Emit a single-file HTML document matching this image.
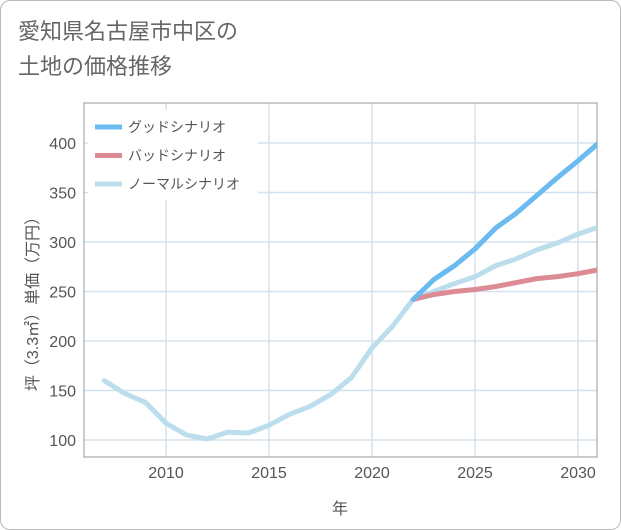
<!DOCTYPE html>
<html><head><meta charset="utf-8"><style>
body{margin:0;background:#fff;font-family:"Liberation Sans","Noto Sans CJK JP",sans-serif;}
#wrap{position:relative;width:619px;height:528px;border:1px solid #bbb;border-radius:10px;overflow:hidden;background:#fff}
#title{position:absolute;left:17px;top:13px;font-size:22px;line-height:35px;color:#666}
</style></head><body>
<div id="wrap">
<div id="title">愛知県名古屋市中区の<br>土地の価格推移</div>
<svg id="chart" width="621" height="530" style="position:absolute;left:-1px;top:-1px"></svg>
</div>
<script>
const years=[2007,2008,2009,2010,2011,2012,2013,2014,2015,2016,2017,2018,2019,2020,2021,2022,2023,2024,2025,2026,2027,2028,2029,2030,2031];
const normal=[160,147,138,117,105,101,108,107,115,126,134,146,163,193,215,242,250,258,265,276,283,292,299,308,315];
const futYears=[2022,2023,2024,2025,2026,2027,2028,2029,2030,2031];
const good=[242,262,276,293,314,329,347,365,382,400];
const bad=[242,247,250,252,255,259,263,265,268,272];
const xTicks=[2010,2015,2020,2025,2030];
const yTicks=[100,150,200,250,300,350,400];
const NS="http://www.w3.org/2000/svg";
const svg=document.getElementById('chart');
const L=84,R=597,T=103,B=457;
const x=v=>166+(v-2010)*20.6;
const y=v=>440-(v-100)*0.99;
function mk(t,a,p){const e=document.createElementNS(NS,t);for(const k in a)e.setAttribute(k,a[k]);(p||svg).appendChild(e);return e;}
const g=mk('g',{});

xTicks.forEach(v=>{mk('line',{x1:x(v),x2:x(v),y1:T,y2:B,stroke:'#d3e2ee','stroke-width':1.5},g);
const t=mk('text',{x:x(v),y:478,'text-anchor':'middle','font-size':16,fill:'#555'});t.textContent=v;
});
yTicks.forEach(v=>{mk('line',{x1:L,x2:R,y1:y(v),y2:y(v),stroke:'#d3e2ee','stroke-width':1.5},g);
const t=mk('text',{x:76,y:y(v)+6,'text-anchor':'end','font-size':16,fill:'#555'});t.textContent=v;
});
const fr=mk('rect',{x:L,y:T,width:R-L,height:B-T,fill:'none',stroke:'#999','stroke-width':1});

const cp=mk('clipPath',{id:'cp'});mk('rect',{x:L,y:T,width:R-L,height:B-T},cp);
function line(xs,vs,col,name){const p=mk('polyline',{points:xs.map((v,i)=>x(v)+','+y(vs[i])).join(' '),fill:'none',stroke:col,'stroke-width':5,'stroke-linejoin':'round','stroke-linecap':'round','clip-path':'url(#cp)'});
}
line(years,normal,'#bcdeec','normal-scenario-line');
line(futYears,bad,'#dc8a94','bad-scenario-line');
line(futYears,good,'#6cbbf0','good-scenario-line');
const lg=mk('g',{});
mk('rect',{x:88,y:110,width:170,height:90,fill:'#fff'},lg);
[['グッドシナリオ','#6cbbf0'],['バッドシナリオ','#dc8a94'],['ノーマルシナリオ','#bcdeec']].forEach((d,i)=>{
const yy=127+i*28.5;
mk('line',{x1:95,x2:122,y1:yy,y2:yy,stroke:d[1],'stroke-width':5},lg);
const t=mk('text',{x:128,y:yy+5,'font-size':14,fill:'#555'},lg);t.textContent=d[0];
});
const xt=mk('text',{x:340,y:514,'text-anchor':'middle','font-size':16,fill:'#555'});xt.textContent='年';

const yt=mk('text',{x:0,y:0,'text-anchor':'middle','font-size':16,fill:'#555',transform:'translate(38,300) rotate(-90)'});yt.textContent='坪（3.3㎡）単価（万円）';

</script>
</body></html>
